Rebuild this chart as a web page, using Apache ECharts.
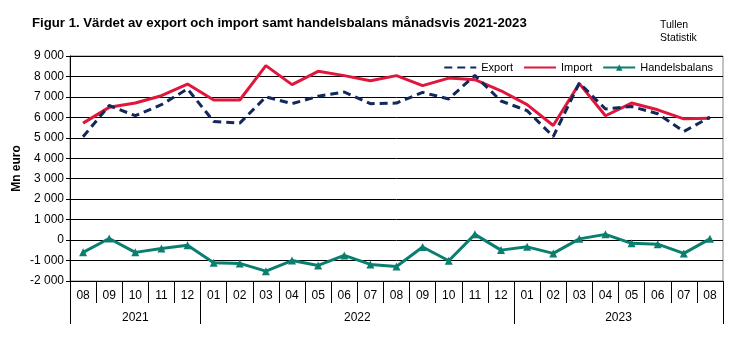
<!DOCTYPE html>
<html>
<head>
<meta charset="utf-8">
<script src="https://cdn.jsdelivr.net/npm/echarts@6/dist/echarts.min.js"></script>
<style>
  html, body { margin: 0; padding: 0; background: #fff; }
  #chart { width: 756px; height: 340px; }
</style>
</head>
<body>
<div id="chart"></div>
<script>
// Månader aug 2021 – aug 2023
const months = ['08','09','10','11','12',
  '01','02','03','04','05','06','07','08','09','10','11','12',
  '01','02','03','04','05','06','07','08'];
const years = ['2021', '2022', '2023'];
const monthsPerYear = [5, 12, 8];

// Mn euro
const exportValues = [5050, 6580, 6080, 6620, 7390,
  5800, 5720, 7000, 6670, 7030, 7240, 6670, 6700, 7220, 6900, 8050, 6800,
  6330, 5060, 7680, 6410, 6530, 6180, 5310, 6010];
const importValues = [5720, 6490, 6700, 7060, 7630,
  6850, 6850, 8530, 7600, 8250, 8040, 7790, 8040, 7550, 7920, 7840, 7300,
  6620, 5600, 7650, 6080, 6700, 6370, 5930, 5960];
const balanceValues = [-600, 80, -600, -410, -250,
  -1110, -1140, -1520, -1000, -1240, -750, -1190, -1290, -340, -1010, 280, -490,
  -330, -650, 60, 280, -160, -200, -650, 60];

const yTicks = { min: -2000, max: 9000, step: 1000 };

// Year boundaries and centres along the month band axis
const yearEdges = [0];
const yearCentres = [];
monthsPerYear.forEach(n => {
  const start = yearEdges[yearEdges.length - 1];
  yearCentres.push(start + n / 2);
  yearEdges.push(start + n);
});

const font = 'Arial, "Liberation Sans", sans-serif';
const fmtThousands = v => {
  const s = Math.abs(v).toString().replace(/\B(?=(\d{3})+(?!\d))/g, ' ');
  return (v < 0 ? '-' : '') + s;
};

const chart = echarts.init(document.getElementById('chart'), null, { renderer: 'canvas' });
chart.setOption({
  animation: false,
  backgroundColor: '#fff',
  title: [
    {
      text: 'Figur 1. Värdet av export och import samt handelsbalans månadsvis 2021-2023',
      left: 27, top: 12,
      textStyle: { fontFamily: font, fontWeight: 'bold', fontSize: 13.2, color: '#000' }
    },
    {
      text: 'Tullen\nStatistik',
      left: 655, top: 14,
      textStyle: { fontFamily: font, fontWeight: 'normal', fontSize: 10.5, color: '#000', lineHeight: 13 }
    }
  ],
  legend: {
    right: 38, top: 57,
    itemWidth: 32, itemHeight: 8, itemGap: 10,
    textStyle: { fontFamily: font, fontSize: 11, color: '#000' },
    data: [
      { name: 'Export', itemStyle: { opacity: 0 } },
      { name: 'Import', itemStyle: { opacity: 0 } },
      { name: 'Handelsbalans' }
    ]
  },
  grid: {
    left: 70, right: 33, top: 56, bottom: 59,
    outerBoundsMode: 'none',
    show: true, borderColor: '#888', borderWidth: 1
  },
  xAxis: [
    {
      type: 'category',
      data: months,
      boundaryGap: true,
      axisLine: { onZero: false, lineStyle: { color: '#000', width: 1 } },
      axisTick: { show: true, interval: 0, length: 22, lineStyle: { color: '#000' } },
      axisLabel: { interval: 0, margin: 9, fontFamily: font, fontSize: 12, color: '#000' },
      splitLine: { show: false }
    },
    {
      type: 'value',
      min: 0, max: months.length,
      position: 'bottom',
      axisLine: { show: false, onZero: false },
      axisTick: { show: true, customValues: yearEdges, length: 43, lineStyle: { color: '#000' } },
      axisLabel: {
        customValues: yearCentres, margin: 31,
        fontFamily: font, fontSize: 12, color: '#000',
        formatter: v => years[yearCentres.indexOf(v)] || ''
      },
      splitLine: { show: false }
    }
  ],
  yAxis: {
    type: 'value',
    min: yTicks.min, max: yTicks.max, interval: yTicks.step,
    name: 'Mn euro',
    nameLocation: 'middle',
    nameGap: 47,
    nameMoveOverlap: false,
    nameRotate: 90,
    nameTextStyle: { fontFamily: font, fontWeight: 'bold', fontSize: 12, color: '#000' },
    axisLine: { show: true, lineStyle: { color: '#000' } },
    axisTick: { show: true, length: 4, lineStyle: { color: '#000' } },
    axisLabel: { margin: 6, fontFamily: font, fontSize: 12, color: '#000', formatter: fmtThousands },
    splitLine: { show: true, lineStyle: { color: '#000', width: 1 } }
  },
  series: [
    {
      name: 'Export', type: 'line', data: exportValues,
      symbol: 'none', color: '#13295b',
      lineStyle: { width: 3, type: [8, 5], color: '#13295b' },
      z: 3
    },
    {
      name: 'Import', type: 'line', data: importValues,
      symbol: 'none', color: '#e0173d',
      lineStyle: { width: 3, color: '#e0173d' },
      z: 2
    },
    {
      name: 'Handelsbalans', type: 'line', data: balanceValues,
      symbol: 'triangle', symbolSize: 8, showSymbol: true,
      color: '#0b7f6f',
      itemStyle: { color: '#0b7f6f' },
      lineStyle: { width: 3, color: '#0b7f6f' },
      z: 3
    }
  ]
});
</script>
</body>
</html>
